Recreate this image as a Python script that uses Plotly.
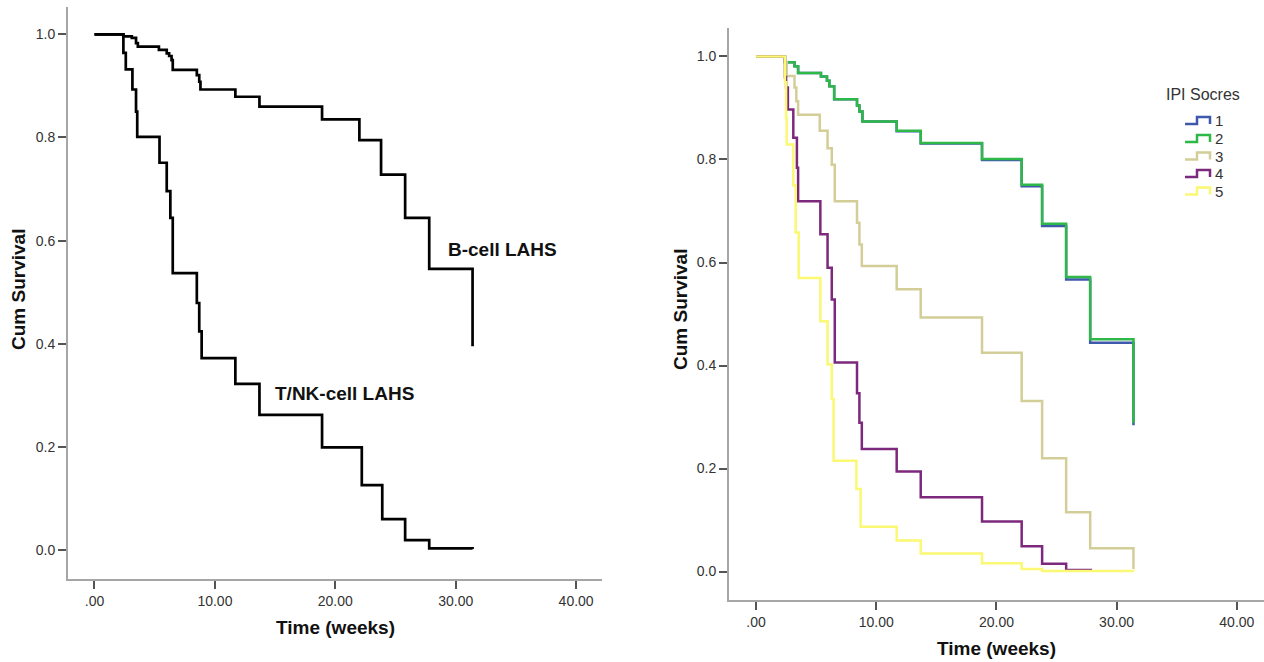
import plotly.graph_objects as go

# ---------------- data ----------------
b_time = [0, 2.4, 3.1, 3.45, 3.6, 5.35, 6.0, 6.2, 6.4, 6.5, 8.5, 8.7, 8.8, 11.7, 13.7, 18.9, 22.0, 23.8, 25.8, 27.8, 31.4]
b_surv = [1.0, 0.996, 0.993, 0.983, 0.976, 0.970, 0.963, 0.958, 0.950, 0.931, 0.921, 0.908, 0.893, 0.879, 0.860, 0.835, 0.795, 0.728, 0.644, 0.545, 0.395]

t_time = [0, 2.4, 2.6, 3.15, 3.45, 3.55, 5.4, 6.0, 6.3, 6.5, 8.5, 8.7, 8.9, 11.7, 13.7, 18.9, 22.2, 23.9, 25.8, 27.8, 31.4]
t_surv = [1.0, 0.964, 0.932, 0.893, 0.850, 0.801, 0.751, 0.696, 0.644, 0.537, 0.479, 0.424, 0.372, 0.322, 0.262, 0.199, 0.126, 0.060, 0.019, 0.003, 0.002]

ipi_names = ["1", "2", "3", "4", "5"]
ipi_colors = ["#3E58AC", "#2EB848", "#D3CE97", "#7C287D", "#FBF873"]

ipi1_time = [0, 2.4, 3.2, 3.5, 5.4, 5.9, 6.1, 6.5, 8.4, 8.6, 8.85, 11.7, 13.7, 18.8, 22.1, 23.8, 25.8, 27.8, 31.4]
ipi1_surv = [1.0, 0.989, 0.981, 0.968, 0.961, 0.953, 0.942, 0.917, 0.905, 0.893, 0.874, 0.855, 0.831, 0.799, 0.748, 0.671, 0.567, 0.444, 0.284]

ipi2_time = [0, 2.4, 3.2, 3.5, 5.4, 5.9, 6.1, 6.5, 8.4, 8.6, 8.85, 11.7, 13.7, 18.8, 22.1, 23.8, 25.8, 27.8, 31.4]
ipi2_surv = [1.0, 0.989, 0.981, 0.968, 0.961, 0.953, 0.942, 0.917, 0.905, 0.893, 0.874, 0.856, 0.832, 0.801, 0.751, 0.675, 0.572, 0.451, 0.289]

ipi3_time = [0, 2.4, 2.55, 3.2, 3.35, 3.5, 5.3, 5.95, 6.3, 6.55, 8.4, 8.6, 8.8, 11.7, 13.7, 18.8, 22.1, 23.8, 25.8, 27.8, 31.4]
ipi3_surv = [1.0, 0.990, 0.962, 0.940, 0.913, 0.887, 0.856, 0.822, 0.790, 0.719, 0.677, 0.635, 0.593, 0.548, 0.493, 0.425, 0.331, 0.220, 0.115, 0.045, 0.005]

ipi4_time = [0, 2.4, 2.5, 2.65, 3.1, 3.4, 3.5, 5.35, 5.95, 6.3, 6.55, 8.4, 8.6, 8.8, 11.7, 13.7, 18.8, 22.1, 23.8, 25.8, 27.85]
ipi4_surv = [1.0, 0.960, 0.940, 0.897, 0.842, 0.784, 0.719, 0.655, 0.590, 0.528, 0.406, 0.346, 0.289, 0.238, 0.194, 0.144, 0.097, 0.049, 0.015, 0.003, 0.002]

ipi5_time = [0, 2.4, 2.5, 2.55, 3.1, 3.3, 3.55, 5.35, 5.95, 6.3, 6.45, 8.35, 8.7, 11.7, 13.7, 18.8, 22.1, 23.8, 31.4]
ipi5_surv = [1.0, 0.950, 0.880, 0.829, 0.750, 0.658, 0.570, 0.486, 0.402, 0.335, 0.215, 0.160, 0.087, 0.060, 0.035, 0.016, 0.005, 0.001, 0.0005]

ipi_times = [ipi1_time, ipi2_time, ipi3_time, ipi4_time, ipi5_time]
ipi_survs = [ipi1_surv, ipi2_surv, ipi3_surv, ipi4_surv, ipi5_surv]

x_tickvals = [0, 10, 20, 30, 40]
x_ticktext = [".00", "10.00", "20.00", "30.00", "40.00"]
y_tickvals = [0, 0.2, 0.4, 0.6, 0.8, 1.0]
y_ticktext = ["0.0", "0.2", "0.4", "0.6", "0.8", "1.0"]

# ---------------- figure ----------------
W, H = 1264, 662
FONT = "Liberation Sans, Arial, sans-serif"


def px(x):
    return x / W


def py(y):
    return 1 - y / H


fig = go.Figure()

fig.add_trace(go.Scatter(x=b_time, y=b_surv, mode="lines", line=dict(color="black", width=2.7, shape="hv"),
                         name="B-cell LAHS", xaxis="x", yaxis="y", showlegend=False))
fig.add_trace(go.Scatter(x=t_time, y=t_surv, mode="lines", line=dict(color="black", width=2.7, shape="hv"),
                         name="T/NK-cell LAHS", xaxis="x", yaxis="y", showlegend=False))

for name, col, tt, ss in zip(ipi_names, ipi_colors, ipi_times, ipi_survs):
    fig.add_trace(go.Scatter(x=tt, y=ss, mode="lines", line=dict(color=col, width=2.5, shape="hv"),
                             name=name, xaxis="x2", yaxis="y2", showlegend=False))

axis_common = dict(showline=True, linecolor="#a6a6a6", linewidth=2, ticks="outside", ticklen=8,
                   tickwidth=2, tickcolor="#555555", showgrid=False, zeroline=False,
                   tickfont=dict(family=FONT, size=14, color="#333333"), fixedrange=True)

fig.update_layout(
    width=W, height=H, margin=dict(l=0, r=0, t=0, b=0),
    paper_bgcolor="white", plot_bgcolor="white",
    xaxis=dict(domain=[px(68), px(602)], range=[-2.2, 42.15], anchor="y",
               tickvals=x_tickvals, ticktext=x_ticktext, **axis_common),
    yaxis=dict(domain=[py(579), py(7)], range=[-0.0562, 1.053], anchor="x",
               tickvals=y_tickvals, ticktext=y_ticktext, **axis_common),
    xaxis2=dict(domain=[px(729), 1.0], range=[-2.25, 42.26], anchor="y2",
                tickvals=x_tickvals, ticktext=x_ticktext, **axis_common),
    yaxis2=dict(domain=[py(600), py(28)], range=[-0.0553, 1.0553], anchor="x2",
                tickvals=y_tickvals, ticktext=y_ticktext, **axis_common),
)

title_font = dict(family=FONT, size=19, color="#111111")
ann = [
    dict(text="<b>Cum Survival</b>", x=px(18), y=py(290), textangle=-90),
    dict(text="<b>Time (weeks)</b>", x=px(336), y=py(627)),
    dict(text="<b>Cum Survival</b>", x=px(680), y=py(310), textangle=-90),
    dict(text="<b>Time (weeks)</b>", x=px(996), y=py(648)),
]
for a in ann:
    fig.add_annotation(xref="paper", yref="paper", showarrow=False, xanchor="center", yanchor="middle",
                       font=title_font, **a)

fig.add_annotation(text="<b>B-cell LAHS</b>", x=29.2, y=0.582, xref="x", yref="y", xanchor="left",
                   yanchor="middle", showarrow=False, font=title_font)
fig.add_annotation(text="<b>T/NK-cell LAHS</b>", x=14.8, y=0.304, xref="x", yref="y", xanchor="left",
                   yanchor="middle", showarrow=False, font=title_font)

# legend (custom, SPSS style)
fig.add_annotation(text="IPI Socres", x=px(1203), y=py(94), xref="paper", yref="paper", showarrow=False,
                   xanchor="center", yanchor="middle", font=dict(family=FONT, size=16, color="#333333"))
leg_y = [121, 139, 156.5, 174, 191.5]
for name, col, ly in zip(ipi_names, ipi_colors, leg_y):
    path = (f"M {px(1185)} {py(ly + 3)} L {px(1197)} {py(ly + 3)} L {px(1197)} {py(ly - 4)} "
            f"L {px(1210)} {py(ly - 4)} L {px(1210)} {py(ly + 3)}")
    fig.add_shape(type="path", path=path, xref="paper", yref="paper", line=dict(color=col, width=2.5))
    fig.add_annotation(text=name, x=px(1213), y=py(ly), xref="paper", yref="paper", showarrow=False,
                       xanchor="left", yanchor="middle", font=dict(family=FONT, size=15, color="#333333"))

fig.write_html("out.html", config={"displayModeBar": False},
               post_script="document.body.style.margin='0px';")
